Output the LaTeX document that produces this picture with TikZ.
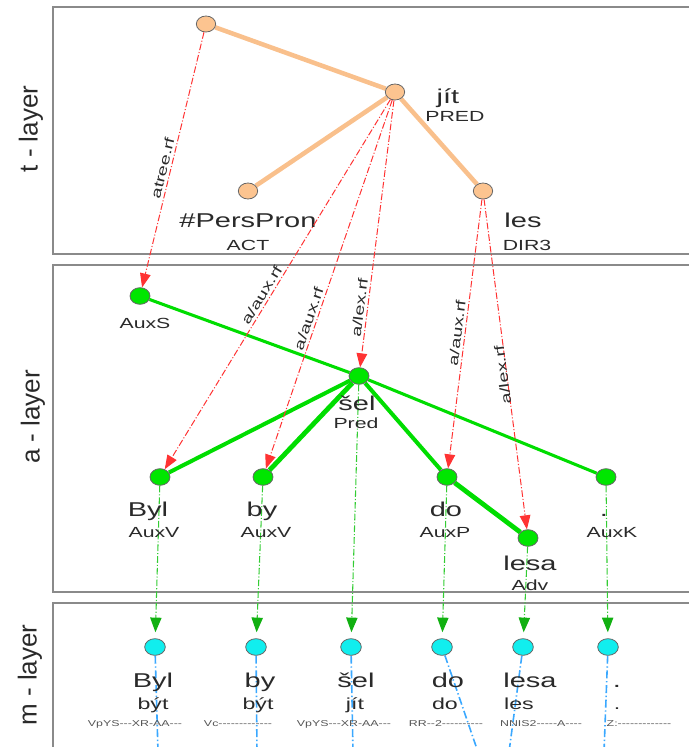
\documentclass[tikz,border=0pt]{standalone}
\usepackage{fontspec}
\setmainfont{Liberation Sans}
\newfontfamily\labfont{Liberation Sans}[FakeStretch=1.45]
\newfontfamily\layfont{Liberation Sans}
\usetikzlibrary{shapes.geometric,arrows.meta}
\pgfdeclarelayer{bg}
\pgfsetlayers{bg,main}

\definecolor{tfill}{HTML}{FCC490}
\definecolor{tedge}{HTML}{F9C08C}
\definecolor{afill}{HTML}{00E600}
\definecolor{aedge}{HTML}{00DD00}
\definecolor{mfill}{HTML}{11EEEE}
\definecolor{refred}{HTML}{FF3333}
\definecolor{refgreen}{HTML}{33CC33}
\definecolor{headgreen}{HTML}{11B011}
\definecolor{wblue}{HTML}{3AA8FF}
\definecolor{boxgray}{HTML}{8A8A8A}
\definecolor{txt}{HTML}{2A2A2A}

\tikzset{
  tnode/.style={ellipse, draw=black!60, line width=0.6pt, fill=tfill, minimum width=14.5pt, minimum height=12pt, inner sep=0pt},
  anode/.style={ellipse, draw=black!60, line width=0.6pt, fill=afill, minimum width=15pt, minimum height=12.5pt, inner sep=0pt},
  mnode/.style={ellipse, draw=black!60, line width=0.6pt, fill=mfill, minimum width=15.5pt, minimum height=12.5pt, inner sep=0pt},
  layerbox/.style={draw=boxgray, line width=1.5pt},
  layerlbl/.style={rotate=90, text=txt, font=\layfont\fontsize{19.5pt}{22pt}\selectfont, inner sep=0pt},
  tline/.style={draw=tedge, line width=3.4pt},
  aline/.style={draw=aedge, line width=#1},
  dashdot/.style={dash pattern=on 5pt off 1.5pt on 0.8pt off 1.5pt},
  refarrow/.style={draw=refred, line width=0.75pt, dashdot, -{Triangle[length=10.5pt,width=8pt]}},
  marrow/.style={draw=refgreen, line width=0.8pt, dashdot, -{Triangle[length=11pt,width=8.5pt,color=headgreen]}, shorten >=4.5pt},
  wline/.style={draw=wblue, line width=1.2pt, dash pattern=on 6pt off 2pt on 1pt off 2pt},
  word/.style={anchor=base, text=txt, inner sep=0pt, font=\labfont\fontsize{15pt}{18pt}\selectfont},
  func/.style={anchor=base, text=txt, inner sep=0pt, font=\labfont\fontsize{11pt}{13pt}\selectfont},
  lemma/.style={anchor=base, text=txt, inner sep=0pt, font=\labfont\fontsize{12pt}{14pt}\selectfont},
  tagtext/.style={anchor=base, text=txt!80, inner sep=0pt, font=\labfont\fontsize{6.4pt}{8pt}\selectfont},
  reflbl/.style={sloped, above=1.5pt, inner sep=0.5pt, text=txt, font=\labfont\fontsize{10.2pt}{12pt}\selectfont},
}

\begin{document}
\begin{tikzpicture}[x=0.75pt,y=-0.75pt]
\useasboundingbox (0,0) rectangle (689,747);

% ---------- t-layer nodes ----------
\node[tnode] (troot) at (206,24) {};
\node[tnode] (tjit)  at (395,92) {};
\node[tnode] (tpers) at (248,191) {};
\node[tnode] (tles)  at (483,191) {};
\node[word] (tjitw)  at (448,103) {jít};
\node[func] (tjitf)  at (455,121) {PRED};
\node[word] (tpersw) at (248,227) {\#PersPron};
\node[func] (tpersf) at (248,250) {ACT};
\node[word] (tlesw)  at (523,227) {les};
\node[func] (tlesf)  at (527,250) {DIR3};

% ---------- a-layer nodes ----------
\node[anode] (aroot) at (140,296) {};
\node[anode] (asel)  at (359,376) {};
\node[anode] (abyl)  at (160,477) {};
\node[anode] (aby)   at (263,477) {};
\node[anode] (ado)   at (447,477) {};
\node[anode] (alesa) at (528,538) {};
\node[anode] (adot)  at (606,477) {};
\node[func] (arootf) at (145,328) {AuxS};
\node[word] (aselw)  at (357,410) {šel};
\node[func] (aself)  at (356,428) {Pred};
\node[word] (abylw)  at (148,516) {Byl};
\node[func] (abylf)  at (154,537) {AuxV};
\node[word] (abyw)   at (262,516) {by};
\node[func] (abyf)   at (266,537) {AuxV};
\node[word] (adow)   at (446,516) {do};
\node[func] (adof)   at (445,537) {AuxP};
\node[word] (alesaw) at (530,570) {lesa};
\node[func] (alesaf) at (530,590) {Adv};
\node[word] (adotw)  at (604,516) {.};
\node[func] (adotf)  at (612,537) {AuxK};

% ---------- m-layer nodes ----------
\node[mnode] (mbyl)  at (155,647) {};
\node[mnode] (mby)   at (256,647) {};
\node[mnode] (msel)  at (351,647) {};
\node[mnode] (mdo)   at (442,647) {};
\node[mnode] (mlesa) at (523,647) {};
\node[mnode] (mdot)  at (608,647) {};
\node[word] (mbylw)  at (153,687) {Byl};
\node[word] (mbyw)   at (260,687) {by};
\node[word] (mselw)  at (356,687) {šel};
\node[word] (mdow)   at (448,687) {do};
\node[word] (mlesaw) at (530,687) {lesa};
\node[word] (mdotw)  at (617,687) {.};
\node[lemma] (mbyll)  at (153,709) {být};
\node[lemma] (mbyl2)  at (258,709) {být};
\node[lemma] (msell)  at (355,709) {jít};
\node[lemma] (mdol)   at (445,709) {do};
\node[lemma] (mlesal) at (519,709) {les};
\node[lemma] (mdotl)  at (617,709) {.};
\node[tagtext] (mbylt)  at (135,726) {VpYS---XR-AA---};
\node[tagtext] (mbyt)   at (238,726) {Vc-------------};
\node[tagtext] (mselt)  at (344,726) {VpYS---XR-AA---};
\node[tagtext] (mdot2)  at (446,726) {RR--2----------};
\node[tagtext] (mlesat) at (541,726) {NNIS2-----A----};
\node[tagtext] (mdott)  at (639,726) {Z:-------------};

% free ends towards the (cut-off) w-layer
\coordinate (wbyl)  at (158,752);
\coordinate (wby)   at (257,752);
\coordinate (wsel)  at (353,752);
\coordinate (wdo)   at (478,752);
\coordinate (wlesa) at (509,752);
\coordinate (wdot)  at (604,752);

% layer labels
\node[layerlbl] (tlayer) at (31,129) {t - layer};
\node[layerlbl] (alayer) at (33,417) {a - layer};
\node[layerlbl] (mlayer) at (30,675) {m - layer};

\begin{pgfonlayer}{bg}
% layer boxes
\draw[layerbox] (53,7) rectangle (702,254);
\draw[layerbox] (53,265) rectangle (702,592);
\draw[layerbox] (53,603) rectangle (702,760);

% t-tree edges
\draw[tline] (troot) -- (tjit);
\draw[tline] (tjit) -- (tpers);
\draw[tline] (tjit) -- (tles);

% a-tree edges
\draw[aline=2.3pt] (aroot) -- (asel);
\draw[aline=3pt]   (asel) -- (abyl);
\draw[aline=3.6pt] (asel) -- (aby);
\draw[aline=3pt]   (asel) -- (ado);
\draw[aline=2.3pt] (asel) -- (adot);
\draw[aline=3.6pt] (ado) -- (alesa);

% w-layer links
\draw[wline] (mbyl) -- (wbyl);
\draw[wline] (mby) -- (wby);
\draw[wline] (msel) -- (wsel);
\draw[wline] (mdo) -- (wdo);
\draw[wline] (mlesa) -- (wlesa);
\draw[wline] (mdot) -- (wdot);

% a -> m links
\draw[marrow] (abyl) -- (mbyl);
\draw[marrow] (aby) -- (mby);
\draw[marrow] (asel) -- (msel);
\draw[marrow] (ado) -- (mdo);
\draw[marrow] (alesa) -- (mlesa);
\draw[marrow] (adot) -- (mdot);
\end{pgfonlayer}

% t -> a links
\draw[refarrow] (troot) -- node[reflbl, pos=0.54] {atree.rf} (aroot);
\draw[refarrow] (tjit) -- node[reflbl, pos=0.54] {a/aux.rf} (abyl);
\draw[refarrow] (tjit) -- node[reflbl, pos=0.6] {a/aux.rf} (aby);
\draw[refarrow] (tjit) -- node[reflbl, pos=0.78] {a/lex.rf} (asel);
\draw[refarrow] (tles) -- node[reflbl, pos=0.5] {a/aux.rf} (ado);
\draw[refarrow] (tles) -- node[reflbl, pos=0.53, rotate=180] {a/lex.rf} (alesa);
\end{tikzpicture}
\end{document}
